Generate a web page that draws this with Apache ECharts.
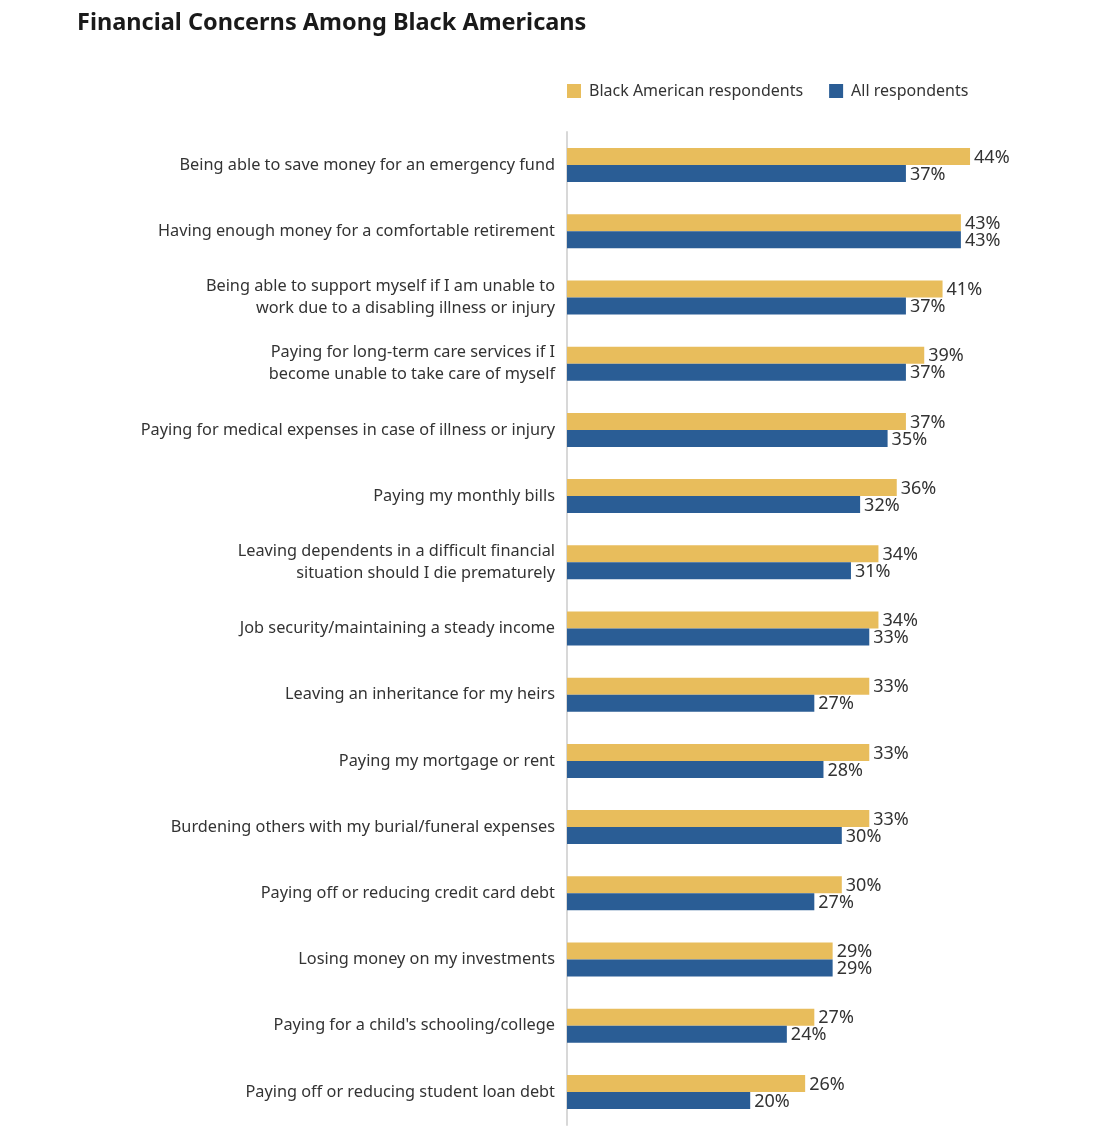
<!DOCTYPE html>
<html><head><meta charset="utf-8">
<script src="https://cdn.jsdelivr.net/npm/echarts@6/dist/echarts.min.js"></script>
<style>html,body{margin:0;padding:0;background:#fff}#c{width:1118px;height:1134px}</style>
</head><body><div id="c"></div>
<script>
const categories = [
  "Being able to save money for an emergency fund",
  "Having enough money for a comfortable retirement",
  "Being able to support myself if I am unable to\nwork due to a disabling illness or injury",
  "Paying for long-term care services if I\nbecome unable to take care of myself",
  "Paying for medical expenses in case of illness or injury",
  "Paying my monthly bills",
  "Leaving dependents in a difficult financial\nsituation should I die prematurely",
  "Job security/maintaining a steady income",
  "Leaving an inheritance for my heirs",
  "Paying my mortgage or rent",
  "Burdening others with my burial/funeral expenses",
  "Paying off or reducing credit card debt",
  "Losing money on my investments",
  "Paying for a child's schooling/college",
  "Paying off or reducing student loan debt"
];
const blackAmerican = [44,43,41,39,37,36,34,34,33,33,33,30,29,27,26];
const allRespondents = [37,43,37,37,35,32,31,33,27,28,30,27,29,24,20];
const seriesNames = ["Black American respondents","All respondents"];

const FONT = "'Noto Sans', sans-serif";
const chart = echarts.init(document.getElementById('c'));
const lbl = {show:true, position:'right', distance:4, formatter:'{c}%', color:'#333', fontSize:18, fontFamily:FONT, offset:[0,1]};
chart.setOption({
  animation:false,
  title:{text:'Financial Concerns Among Black Americans', left:72, top:6,
    textStyle:{fontFamily:FONT, fontWeight:'bold', fontSize:23.5, color:'#1a1a1a'}},
  legend:{top:78, left:562, itemWidth:14, itemHeight:14, itemGap:26, icon:'rect',
    textStyle:{fontFamily:FONT, fontSize:16, color:'#333', padding:[0,0,0,3]}, data:seriesNames},
  grid:{left:567, right:93, top:132, height:993, containLabel:false},
  xAxis:{type:'value', min:0, max:50, show:false},
  yAxis:{type:'category', data:categories, inverse:true,
    axisLine:{show:true, lineStyle:{color:'#d8d8d8', width:2}},
    axisTick:{show:false},
    axisLabel:{fontFamily:FONT, fontSize:16.3, color:'#333', margin:12, lineHeight:22, align:'right', padding:[5,0,0,0]}},
  series:[
    {name:seriesNames[0], type:'bar', data:blackAmerican, barWidth:17, barGap:'0%',
     itemStyle:{color:'#E8BD5C'}, label:lbl},
    {name:seriesNames[1], type:'bar', data:allRespondents, barWidth:17, barGap:'0%',
     itemStyle:{color:'#2A5D95'}, label:lbl}
  ]
});
</script></body></html>
